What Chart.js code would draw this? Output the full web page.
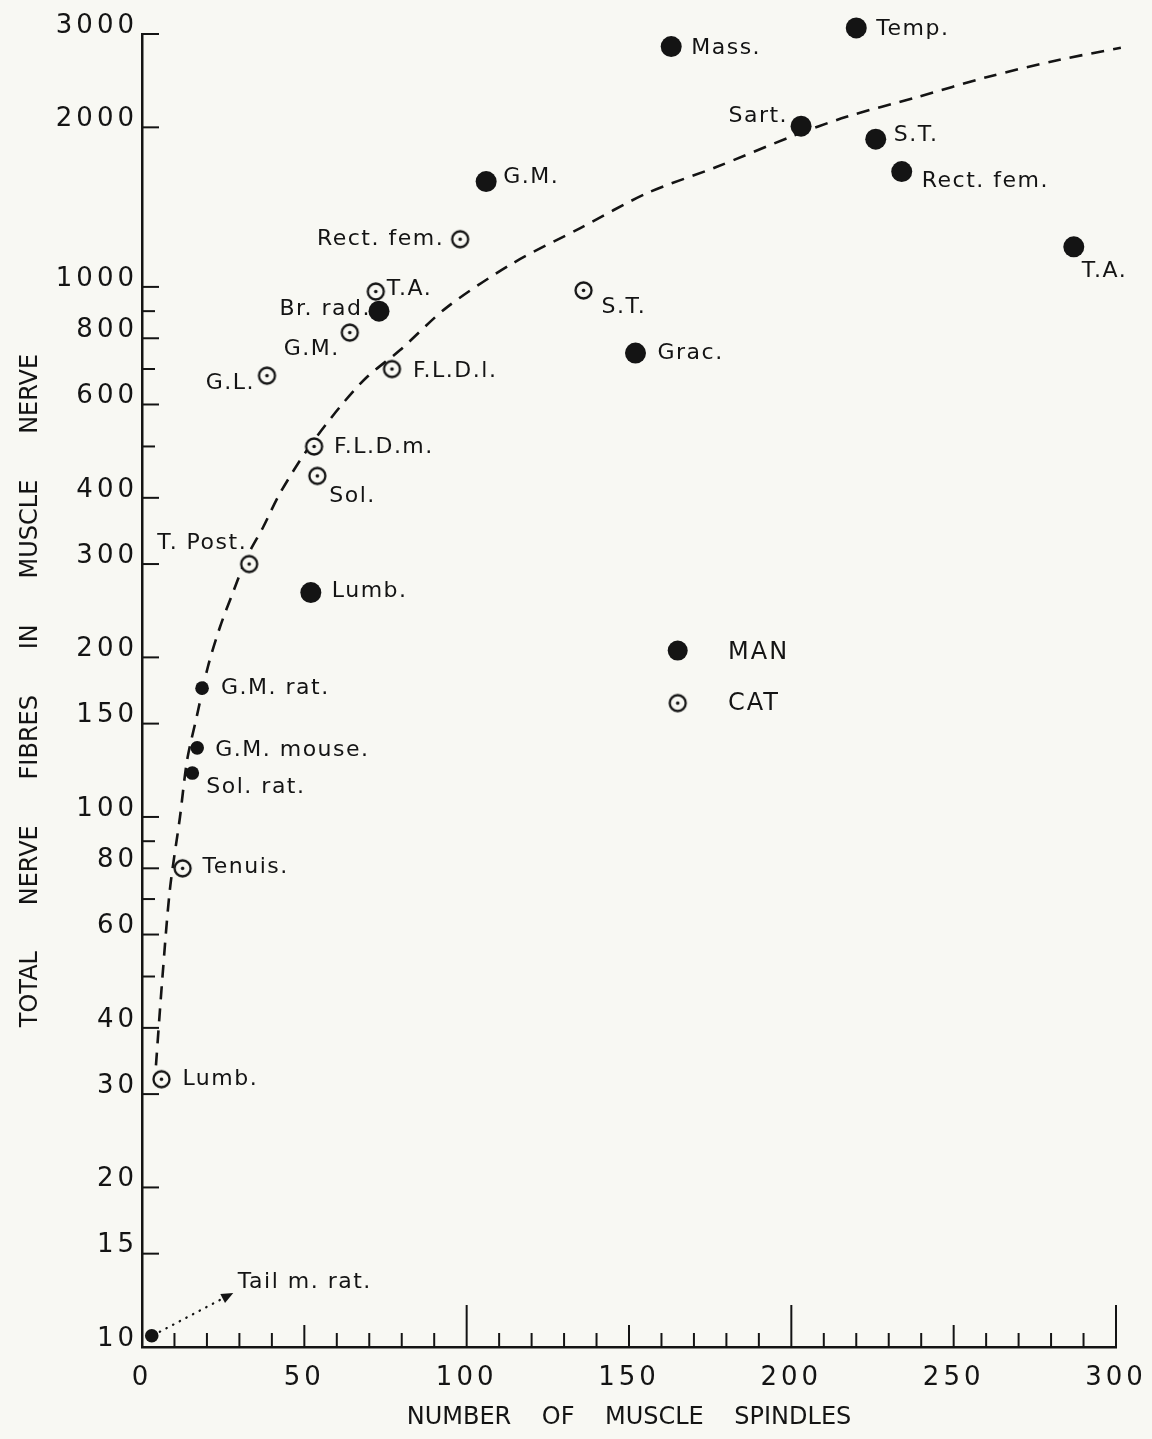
<!DOCTYPE html>
<html>
<head>
<meta charset="utf-8">
<title>Muscle spindles and nerve fibres</title>
<script src="https://cdn.jsdelivr.net/npm/chart.js@4.4.1/dist/chart.umd.min.js"></script>
<style>
  html, body { margin: 0; padding: 0; background: #f8f8f3; }
  #chart { display: block; }
</style>
</head>
<body>
<canvas id="chart" width="1152" height="1439"></canvas>
<script>
// --- Data ---
// Man (filled dots)
const manLabels = ['Mass.', 'Temp.', 'Sart.', 'S.T.', 'Rect. fem.', 'T.A.', 'G.M.', 'Br. rad.', 'Grac.', 'Lumb.'];
const manSpindles = [163, 220, 203, 226, 234, 287, 106, 73, 152, 52];
const manFibres = [2840, 3080, 2010, 1900, 1650, 1190, 1580, 900, 750, 265];

// Cat (circled dots)
const catLabels = ['Rect. fem.', 'T.A.', 'G.M.', 'G.L.', 'F.L.D.l.', 'S.T.', 'F.L.D.m.', 'Sol.', 'T. Post.', 'Tenuis.', 'Lumb.'];
const catSpindles = [98, 72, 64, 38.5, 77, 136, 53, 54, 33, 12.5, 6];
const catFibres = [1230, 980, 820, 680, 700, 985, 500, 440, 300, 80, 32];

// Rat / mouse (small filled dots)
const rodentLabels = ['G.M. rat.', 'G.M. mouse.', 'Sol. rat.', 'Tail m. rat.'];
const rodentSpindles = [18.5, 17, 15.5, 3];
const rodentFibres = [175, 135, 121, 10.5];

// Dashed curve, traced point by point
const curveSpindles = [4.3, 6.2, 8.6, 11.7, 13.9, 16.9, 20.3, 24, 28, 32.4, 37.3, 42.5, 50.8, 61, 69.3, 79.5, 94, 114.3, 135, 155.6, 176.9, 199.7, 217, 238.8, 260.4, 282.3, 301.5];
const curveFibres = [34, 49, 73, 100, 128, 155, 192, 228, 265, 310, 352, 408, 492, 594, 676, 760, 916, 1109, 1291, 1503, 1683, 1918, 2094, 2280, 2489, 2680, 2825];

// Axis ticks
const yTickValues = [10, 15, 20, 30, 40, 60, 80, 100, 150, 200, 300, 400, 600, 800, 1000, 2000, 3000];
const yTickMarks = [15, 20, 30, 40, 50, 60, 70, 80, 90, 100, 150, 200, 300, 400, 500, 600, 700, 800, 900, 1000, 2000, 3000];
const xTickMarks = [10, 20, 30, 40, 50, 60, 70, 80, 90, 100, 110, 120, 130, 140, 150, 160, 170, 180, 190, 200,
                    210, 220, 230, 240, 250, 260, 270, 280, 290, 300];

// --- Label placement (pixel offset from the point, text alignment) ---
const manLabelPos = [[20, 2, 'left'], [20, 1, 'left'], [-13, -10, 'right'], [18, -4, 'left'], [20, 10, 'left'],
                     [8, 24, 'left'], [17, -4, 'left'], [-8, -2, 'right'], [22, 0, 'left'], [21, -1, 'left']];
const catLabelPos = [[-16, 0, 'right'], [11, -2, 'left'], [-10, 17, 'right'], [-12, 8, 'right'], [21, 2, 'left'],
                     [18, 17, 'left'], [20, 1, 'left'], [12, 20, 'left'], [-2, -21, 'right'], [20, -1, 'left'], [21, 0, 'left']];
const rodentLabelPos = [[19, 0, 'left'], [18, 2, 'left'], [14, 14, 'left'], [86, -53, 'left']];

// --- Styling ---
const INK = '#141414';
const PAPER = '#f8f8f3';
const FONT = "'DejaVu Sans', sans-serif";

function toPoints(xs, ys) {
    return xs.map((x, i) => ({ x: x, y: ys[i] }));
}

function makeCatMarker(r) {
    const size = Math.ceil(r * 2 + 5);
    const c = document.createElement('canvas');
    c.width = size;
    c.height = size;
    const g = c.getContext('2d');
    const m = size / 2;
    g.beginPath();
    g.arc(m, m, r, 0, Math.PI * 2);
    g.fillStyle = PAPER;
    g.fill();
    g.lineWidth = 2.3;
    g.strokeStyle = INK;
    g.stroke();
    g.beginPath();
    g.arc(m, m, 1.8, 0, Math.PI * 2);
    g.fillStyle = INK;
    g.fill();
    return c;
}

const catMarker = makeCatMarker(8);

// --- Plugins ---
// tick marks point inward from both axes
const axisMarks = {
    id: 'axisMarks',
    beforeDatasetsDraw(chart) {
        const { ctx, chartArea, scales: { x, y } } = chart;
        ctx.save();
        ctx.strokeStyle = INK;
        ctx.lineWidth = 2;
        yTickMarks.forEach(v => {
            const py = y.getPixelForValue(v);
            const len = yTickValues.includes(v) ? 17 : 13;
            ctx.beginPath();
            ctx.moveTo(chartArea.left, py);
            ctx.lineTo(chartArea.left + len, py);
            ctx.stroke();
        });
        xTickMarks.forEach(v => {
            const px = x.getPixelForValue(v);
            const len = v % 100 === 0 ? 42 : (v % 50 === 0 ? 22 : 14);
            ctx.beginPath();
            ctx.moveTo(px, chartArea.bottom);
            ctx.lineTo(px, chartArea.bottom - len);
            ctx.stroke();
        });
        ctx.restore();
    },
    afterDatasetsDraw(chart) {
        // spaced-out lettering for the tick numbers drawn next
        chart.ctx.letterSpacing = '4px';
    }
};

function drawPointLabels(chart, datasetIndex, texts, placement) {
    const ctx = chart.ctx;
    const meta = chart.getDatasetMeta(datasetIndex);
    meta.data.forEach((pt, i) => {
        const [dx, dy, align] = placement[i];
        ctx.textAlign = align;
        ctx.fillText(texts[i], pt.x + dx, pt.y + dy);
    });
}

const annotations = {
    id: 'annotations',
    afterDraw(chart) {
        const { ctx, scales: { x, y } } = chart;
        ctx.save();
        ctx.letterSpacing = '1.5px';
        ctx.fillStyle = INK;
        ctx.font = `22px ${FONT}`;
        ctx.textBaseline = 'middle';
        drawPointLabels(chart, 0, manLabels, manLabelPos);
        drawPointLabels(chart, 1, catLabels, catLabelPos);
        drawPointLabels(chart, 2, rodentLabels, rodentLabelPos);

        // dotted arrow to the tail muscle point
        const tail = chart.getDatasetMeta(2).data[3];
        const x0 = tail.x + 8, y0 = tail.y - 4;
        const x1 = tail.x + 78, y1 = tail.y - 41;
        ctx.strokeStyle = INK;
        ctx.lineWidth = 2.2;
        ctx.lineCap = 'round';
        ctx.setLineDash([0.5, 7]);
        ctx.beginPath();
        ctx.moveTo(x0, y0);
        ctx.lineTo(x1, y1);
        ctx.stroke();
        ctx.setLineDash([]);
        const ang = Math.atan2(y1 - y0, x1 - x0);
        ctx.beginPath();
        ctx.moveTo(x1 + 4 * Math.cos(ang), y1 + 4 * Math.sin(ang));
        ctx.lineTo(x1 - 8 * Math.cos(ang) + 5 * Math.sin(ang), y1 - 8 * Math.sin(ang) - 5 * Math.cos(ang));
        ctx.lineTo(x1 - 8 * Math.cos(ang) - 5 * Math.sin(ang), y1 - 8 * Math.sin(ang) + 5 * Math.cos(ang));
        ctx.closePath();
        ctx.fill();

        // legend inside the plot
        const lx = x.getPixelForValue(165);
        const tx = x.getPixelForValue(180.5);
        const manY = y.getPixelForValue(206);
        const catY = y.getPixelForValue(164);
        ctx.beginPath();
        ctx.arc(lx, manY, 10, 0, Math.PI * 2);
        ctx.fill();
        ctx.drawImage(catMarker, lx - catMarker.width / 2, catY - catMarker.height / 2);
        ctx.font = `24px ${FONT}`;
        ctx.letterSpacing = '2px';
        ctx.textAlign = 'left';
        ctx.fillText('MAN', tx, manY + 2);
        ctx.fillText('CAT', tx, catY + 1);
        ctx.restore();
        ctx.letterSpacing = '0px';
    }
};

// --- Chart ---
Chart.defaults.font.family = FONT;
Chart.defaults.color = INK;

new Chart(document.getElementById('chart'), {
    type: 'scatter',
    data: {
        datasets: [
            {
                label: 'MAN',
                data: toPoints(manSpindles, manFibres),
                pointRadius: 10.5,
                backgroundColor: INK,
                borderWidth: 0,
                clip: false,
                order: 0
            },
            {
                label: 'CAT',
                data: toPoints(catSpindles, catFibres),
                pointStyle: catMarker,
                pointRadius: 8,
                clip: false,
                order: 0
            },
            {
                label: 'Rat / mouse',
                data: toPoints(rodentSpindles, rodentFibres),
                pointRadius: 6.8,
                backgroundColor: INK,
                borderWidth: 0,
                clip: false,
                order: 0
            },
            {
                type: 'line',
                label: 'Curve',
                data: toPoints(curveSpindles, curveFibres),
                borderColor: INK,
                borderWidth: 2.6,
                borderDash: [13, 9],
                pointRadius: 0,
                tension: 0.3,
                fill: false,
                clip: false,
                order: 10
            }
        ]
    },
    options: {
        responsive: false,
        animation: false,
        events: [],
        layout: { padding: { top: 34, right: 36, bottom: 0, left: 0 } },
        plugins: {
            legend: { display: false },
            tooltip: { enabled: false }
        },
        scales: {
            x: {
                type: 'linear',
                min: 0,
                max: 300,
                // tick length only spaces the labels; the marks are drawn by axisMarks
                grid: { display: false, drawTicks: true, tickLength: 16 },
                border: { display: true, color: INK, width: 2.5 },
                ticks: {
                    stepSize: 50,
                    autoSkip: false,
                    maxRotation: 0,
                    padding: 0,
                    z: 1,
                    font: { size: 26 },
                    color: INK
                },
                title: {
                    display: true,
                    text: 'NUMBER    OF    MUSCLE    SPINDLES',
                    font: { size: 24 },
                    color: INK,
                    padding: { top: 0, bottom: 7 }
                },
                afterFit(scale) { scale.height = 92; }
            },
            y: {
                type: 'logarithmic',
                min: 10,
                max: 3000,
                grid: { display: false, drawTicks: false },
                border: { display: true, color: INK, width: 2.5 },
                afterBuildTicks(scale) {
                    scale.ticks = yTickValues.map(v => ({ value: v }));
                },
                ticks: {
                    autoSkip: false,
                    padding: 4,
                    labelOffset: -8,
                    z: 1,
                    font: { size: 26 },
                    color: INK,
                    callback: (v) => String(v)
                },
                title: {
                    display: true,
                    text: 'TOTAL      NERVE      FIBRES      IN      MUSCLE      NERVE',
                    font: { size: 24 },
                    color: INK,
                    padding: { top: 16, bottom: 0 }
                },
                afterFit(scale) { scale.width = 142; }
            }
        }
    },
    plugins: [axisMarks, annotations]
});
</script>
</body>
</html>
